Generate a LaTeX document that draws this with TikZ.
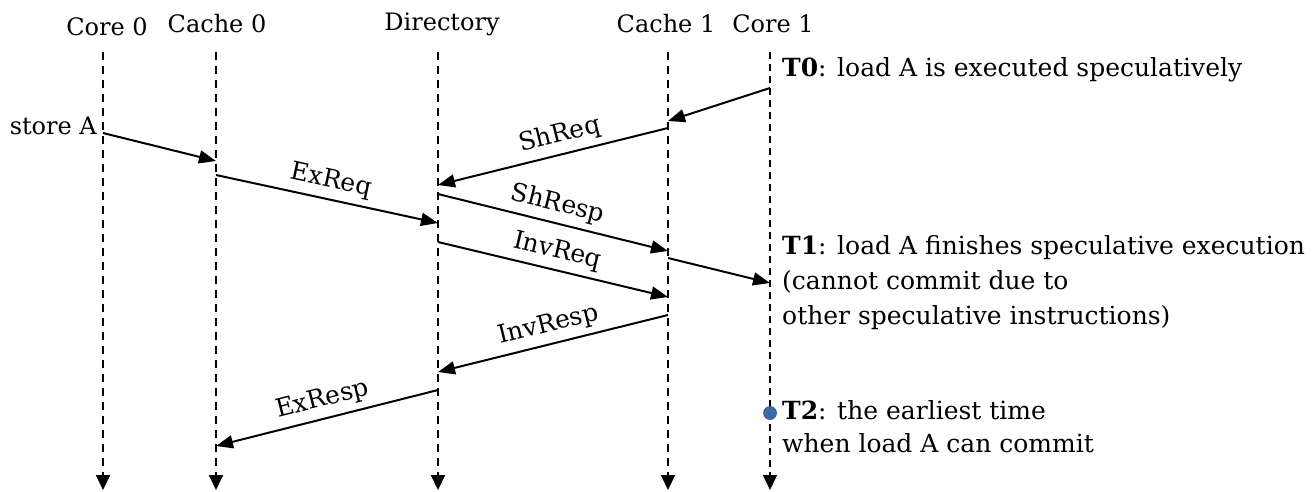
\documentclass[tikz,border=0pt]{standalone}
\usepackage{fontspec}
\setmainfont{DejaVu Serif}
\usetikzlibrary{arrows.meta}
\definecolor{dotblue}{HTML}{3F68A6}
\begin{document}
\begin{tikzpicture}[x=1pt,y=-1pt,
  txt/.style={inner sep=0pt,font=\fontsize{25}{35}\selectfont},
  head/.style={inner sep=0pt,font=\fontsize{24}{30}\selectfont},
  lifeline/.style={line width=2pt,dash pattern=on 8pt off 6pt,-{Triangle[length=15pt,width=14pt]}},
  thinlife/.style={line width=1.3pt,dash pattern=on 7pt off 5pt,-{Triangle[length=15pt,width=14pt]}},
  msg/.style={line width=2pt,-{Triangle[length=17pt,width=13pt]}},
  lbl/.style={inner sep=0pt,font=\fontsize{25}{30}\selectfont,sloped,above=6pt}]
\useasboundingbox (0,0) rectangle (1314,491);

% headers
\node[head] (h0) at (107,27) {Core 0};
\node[head] (h1) at (217,24) {Cache 0};
\node[head] (h2) at (442,24) {Directory};
\node[head] (h3) at (666,24) {Cache 1};
\node[head] (h4) at (773,24) {Core 1};

% lifelines
\coordinate (c0t) at (103,52);  \coordinate (c0b) at (103,490);
\coordinate (k0t) at (216,52);  \coordinate (k0b) at (216,490);
\coordinate (dt)  at (438,52);  \coordinate (db)  at (438,490);
\coordinate (k1t) at (668,52);  \coordinate (k1b) at (668,490);
\coordinate (c1t) at (770,52);  \coordinate (c1b) at (770,490);
\draw[lifeline] (c0t) -- (c0b);
\draw[lifeline] (k0t) -- (k0b);
\draw[lifeline] (dt) -- (db);
\draw[lifeline] (k1t) -- (k1b);
\draw[thinlife] (c1t) -- (c1b);

% message end points
\coordinate (a1) at (770,88);  \coordinate (a2) at (668,121);
\coordinate (b1) at (668,128); \coordinate (b2) at (438,185);
\coordinate (s1) at (103,133); \coordinate (s2) at (216,161);
\coordinate (e1) at (216,175); \coordinate (e2) at (438,223);
\coordinate (r1) at (438,194); \coordinate (r2) at (668,251);
\coordinate (i1) at (438,242); \coordinate (i2) at (668,297);
\coordinate (f1) at (668,258); \coordinate (f2) at (770,283);
\coordinate (v1) at (668,315); \coordinate (v2) at (438,372);
\coordinate (x1) at (438,390); \coordinate (x2) at (216,446);

\draw[msg] (a1) -- (a2);
\draw[msg] (b1) -- node[lbl,pos=0.45] {ShReq} (b2);
\draw[msg] (s1) -- (s2);
\draw[msg] (e1) -- node[lbl] {ExReq} (e2);
\draw[msg] (r1) -- node[lbl] {ShResp} (r2);
\draw[msg] (i1) -- node[lbl] {InvReq} (i2);
\draw[msg] (f1) -- (f2);
\draw[msg] (v1) -- node[lbl] {InvResp} (v2);
\draw[msg] (x1) -- node[lbl] {ExResp} (x2);

% annotations
\node[head,anchor=east] (st) at (97,126) {store A};
\node[txt,anchor=west] (t0) at (782,70) {\textbf{T0}: load A is executed speculatively};
\node[txt,anchor=north west,align=left] (t1) at (782,235)
  {\textbf{T1}: load A finishes speculative execution\\(cannot commit due to\\other speculative instructions)};
\node[circle,fill=dotblue,draw=dotblue!80!black,line width=0.6pt,minimum size=13pt,inner sep=0pt] (dot) at (770,413) {};
\node[txt,anchor=north west,align=left,font=\fontsize{25}{33}\selectfont] (t2) at (782,400)
  {\textbf{T2}: the earliest time\\when load A can commit};
\end{tikzpicture}
\end{document}
